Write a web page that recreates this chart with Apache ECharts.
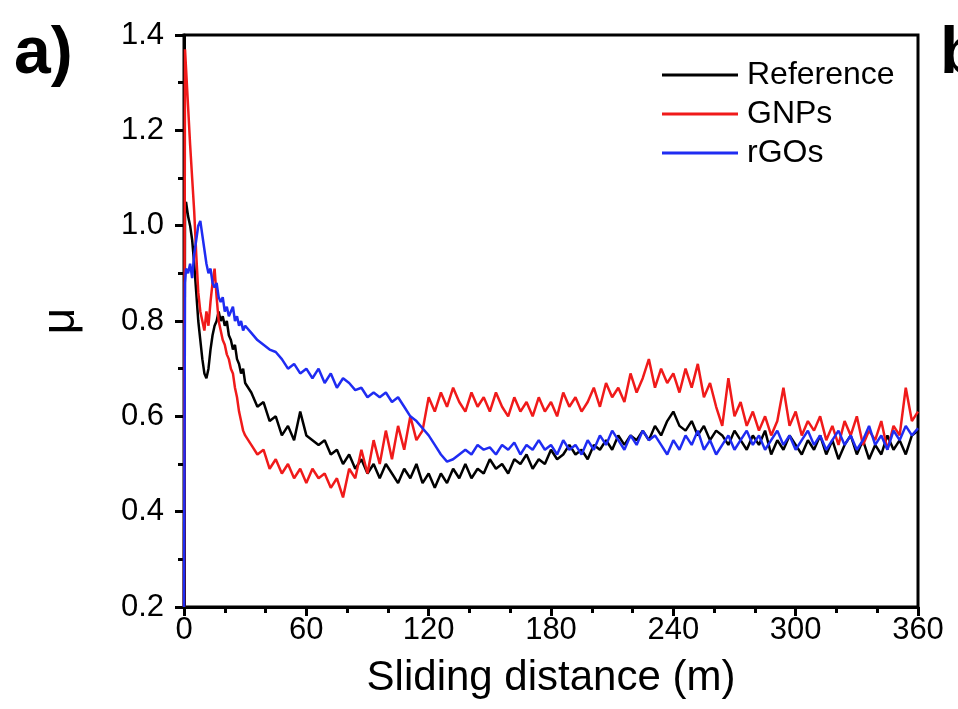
<!DOCTYPE html>
<html>
<head>
<meta charset="utf-8">
<script src="https://cdn.jsdelivr.net/npm/echarts@6/dist/echarts.min.js"></script>
<style>
  html, body { margin: 0; padding: 0; background: #fff; }
  #chart { width: 958px; height: 709px; }
</style>
</head>
<body>
<div id="chart"></div>
<script>
// sliding distance (m)
var dist = [0, 0.5,
  1, 2, 3, 4, 5, 6, 7, 8, 9, 10, 11, 12, 13, 14, 15, 16, 17, 18, 19, 20,
  21, 22, 23, 24, 25, 26, 27, 28, 29, 30,
  33, 36, 39, 42, 45, 48, 51, 54, 57, 60, 63, 66, 69, 72, 75, 78, 81, 84, 87, 90,
  93, 96, 99, 102, 105, 108, 111, 114, 117, 120, 123, 126, 129, 132, 135, 138, 141, 144, 147, 150,
  153, 156, 159, 162, 165, 168, 171, 174, 177, 180, 183, 186, 189, 192, 195, 198, 201, 204, 207, 210,
  213, 216, 219, 222, 225, 228, 231, 234, 237, 240, 243, 246, 249, 252, 255, 258, 261, 264, 267, 270,
  273, 276, 279, 282, 285, 288, 291, 294, 297, 300, 303, 306, 309, 312, 315, 318, 321, 324, 327, 330,
  333, 336, 339, 342, 345, 348, 351, 354, 357, 360];

var reference = [0.2, 1.04,
  1.05, 1.02, 1.00, 0.97, 0.92, 0.86, 0.80, 0.76, 0.72, 0.69, 0.68, 0.70, 0.74, 0.77, 0.79, 0.80, 0.82, 0.80, 0.81, 0.79,
  0.80, 0.77, 0.76, 0.74, 0.75, 0.72, 0.71, 0.69, 0.70, 0.67,
  0.65, 0.62, 0.63, 0.59, 0.60, 0.56, 0.58, 0.55, 0.61, 0.56, 0.55, 0.54, 0.55, 0.52, 0.53, 0.50, 0.52, 0.49, 0.51, 0.48,
  0.50, 0.47, 0.50, 0.48, 0.46, 0.49, 0.47, 0.50, 0.46, 0.48, 0.45, 0.48, 0.46, 0.49, 0.47, 0.50, 0.47, 0.49, 0.48, 0.51,
  0.49, 0.50, 0.48, 0.51, 0.50, 0.52, 0.49, 0.51, 0.50, 0.53, 0.51, 0.52, 0.54, 0.52, 0.53, 0.51, 0.54, 0.53, 0.55, 0.53,
  0.56, 0.54, 0.56, 0.55, 0.57, 0.55, 0.58, 0.56, 0.59, 0.61, 0.58, 0.57, 0.59, 0.56, 0.58, 0.55, 0.57, 0.56, 0.54, 0.57,
  0.55, 0.53, 0.56, 0.54, 0.57, 0.52, 0.55, 0.53, 0.56, 0.54, 0.52, 0.55, 0.53, 0.56, 0.52, 0.55, 0.51, 0.54, 0.56, 0.52,
  0.55, 0.51, 0.54, 0.52, 0.56, 0.53, 0.55, 0.52, 0.56, 0.57];

var gnps = [0.2, 1.37,
  1.33, 1.25, 1.17, 1.10, 1.03, 0.94, 0.86, 0.82, 0.80, 0.78, 0.82, 0.79, 0.84, 0.88, 0.91, 0.85, 0.80, 0.78, 0.76, 0.75,
  0.73, 0.72, 0.70, 0.69, 0.66, 0.64, 0.61, 0.59, 0.57, 0.56,
  0.54, 0.52, 0.53, 0.49, 0.51, 0.48, 0.50, 0.47, 0.49, 0.46, 0.49, 0.47, 0.48, 0.45, 0.47, 0.43, 0.49, 0.47, 0.53, 0.48,
  0.55, 0.50, 0.57, 0.51, 0.58, 0.53, 0.60, 0.55, 0.57, 0.64, 0.61, 0.65, 0.62, 0.66, 0.63, 0.61, 0.65, 0.62, 0.64, 0.61,
  0.65, 0.62, 0.60, 0.64, 0.61, 0.63, 0.60, 0.64, 0.61, 0.63, 0.60, 0.65, 0.62, 0.64, 0.61, 0.63, 0.66, 0.62, 0.67, 0.64,
  0.66, 0.63, 0.69, 0.65, 0.68, 0.72, 0.66, 0.70, 0.67, 0.69, 0.65, 0.70, 0.66, 0.71, 0.64, 0.67, 0.62, 0.58, 0.68, 0.60,
  0.63, 0.58, 0.61, 0.57, 0.60, 0.56, 0.59, 0.66, 0.58, 0.61, 0.56, 0.59, 0.57, 0.60, 0.55, 0.58, 0.54, 0.59, 0.56, 0.60,
  0.54, 0.57, 0.55, 0.59, 0.53, 0.58, 0.56, 0.66, 0.59, 0.61];

var rgos = [0.2, 0.88,
  0.91, 0.90, 0.92, 0.89, 0.94, 0.97, 1.00, 1.01, 0.98, 0.95, 0.92, 0.90, 0.91, 0.88, 0.87, 0.88, 0.85, 0.84, 0.85, 0.82,
  0.83, 0.81, 0.82, 0.83, 0.80, 0.81, 0.79, 0.80, 0.78, 0.79,
  0.775, 0.76, 0.75, 0.74, 0.735, 0.72, 0.70, 0.71, 0.69, 0.70, 0.68, 0.70, 0.67, 0.69, 0.66, 0.68, 0.67, 0.655, 0.66, 0.64,
  0.65, 0.64, 0.65, 0.63, 0.64, 0.62, 0.60, 0.59, 0.575, 0.56, 0.54, 0.52, 0.505, 0.51, 0.52, 0.53, 0.52, 0.54, 0.53, 0.535,
  0.52, 0.54, 0.53, 0.545, 0.52, 0.54, 0.53, 0.55, 0.53, 0.54, 0.52, 0.55, 0.53, 0.54, 0.52, 0.55, 0.53, 0.56, 0.54, 0.57,
  0.55, 0.53, 0.56, 0.54, 0.57, 0.55, 0.56, 0.54, 0.52, 0.55, 0.53, 0.56, 0.54, 0.57, 0.53, 0.55, 0.52, 0.54, 0.56, 0.53,
  0.55, 0.57, 0.54, 0.56, 0.53, 0.55, 0.57, 0.54, 0.56, 0.53, 0.55, 0.57, 0.54, 0.56, 0.53, 0.55, 0.57, 0.54, 0.56, 0.53,
  0.55, 0.58, 0.54, 0.56, 0.53, 0.57, 0.55, 0.58, 0.56, 0.575];

var seriesNames = ['Reference', 'GNPs', 'rGOs'];
var seriesColors = ['#000000', '#f01a1a', '#1f2cf2'];

function pairs(vals) {
  return dist.map(function (d, i) { return [d, vals[i]]; });
}

var chart = echarts.init(document.getElementById('chart'));
var font = 'Liberation Sans, Arial, sans-serif';

chart.setOption({
  backgroundColor: '#fff',
  animation: false,
  grid: {
    left: 184, right: 40, top: 35, bottom: 102,
    show: true, borderColor: '#000', borderWidth: 3
  },
  legend: {
    orient: 'vertical',
    left: 657, top: 54,
    icon: 'rect',
    itemWidth: 76, itemHeight: 3, itemGap: 7,
    data: seriesNames,
    textStyle: { fontFamily: font, fontSize: 32, color: '#000', padding: [0, 0, 0, 4] }
  },
  xAxis: {
    type: 'value', min: 0, max: 360, interval: 60,
    name: 'Sliding distance (m)', nameLocation: 'middle', nameGap: 50,
    nameTextStyle: { fontFamily: font, fontSize: 42, color: '#000' },
    axisLine: { lineStyle: { color: '#000', width: 3 } },
    axisTick: { length: 9, lineStyle: { color: '#000', width: 3 } },
    minorTick: { show: true, splitNumber: 3, length: 6, lineStyle: { color: '#000', width: 3 } },
    splitLine: { show: false },
    axisLabel: { fontFamily: font, fontSize: 31, color: '#000', margin: 8 }
  },
  yAxis: {
    type: 'value', min: 0.2, max: 1.4, interval: 0.2,
    name: 'μ', nameLocation: 'middle', nameGap: 100, nameRotate: 90,
    nameTextStyle: { fontFamily: font, fontSize: 46, color: '#000' },
    axisLine: { lineStyle: { color: '#000', width: 3 } },
    axisTick: { length: 9, lineStyle: { color: '#000', width: 3 } },
    minorTick: { show: true, splitNumber: 2, length: 6, lineStyle: { color: '#000', width: 3 } },
    splitLine: { show: false },
    axisLabel: {
      fontFamily: font, fontSize: 31, color: '#000', margin: 20,
      formatter: function (v) { return v.toFixed(1); }
    }
  },
  graphic: [
    { type: 'text', left: 14, top: 22, style: { text: 'a)', font: 'bold 66px ' + font, fill: '#000' } },
    { type: 'text', left: 940, top: 22, style: { text: 'b)', font: 'bold 66px ' + font, fill: '#000' } }
  ],
  series: [reference, gnps, rgos].map(function (vals, i) {
    return {
      name: seriesNames[i],
      type: 'line',
      symbol: 'none',
      data: pairs(vals),
      lineStyle: { color: seriesColors[i], width: 2.5 },
      itemStyle: { color: seriesColors[i] }
    };
  })
});
</script>
</body>
</html>
